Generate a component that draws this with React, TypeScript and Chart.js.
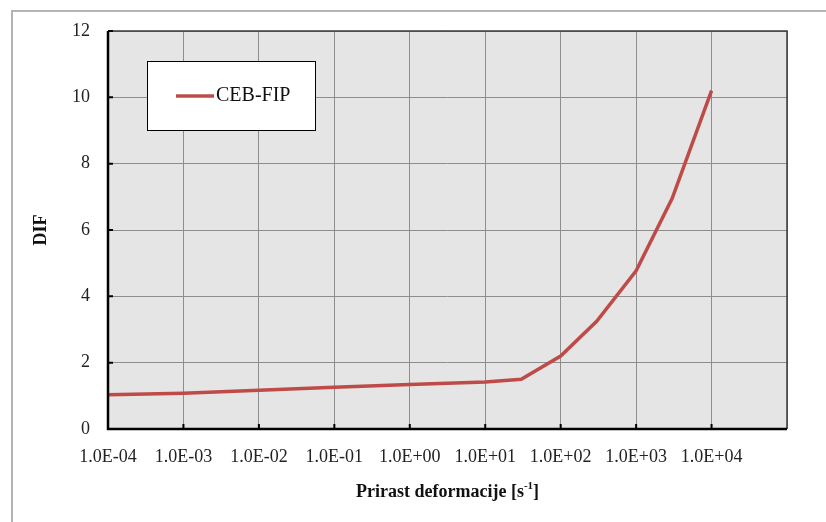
import React, { useEffect, useRef } from 'react';
import { Chart, registerables } from 'chart.js';

Chart.register(...registerables);

// ---- data ----
const strainRates = [1e-4, 1e-3, 1e-2, 1e-1, 1, 10, 30, 100, 300, 1000, 3000, 10000];
const difValues = [1.03, 1.08, 1.17, 1.26, 1.34, 1.42, 1.5, 2.2, 3.25, 4.77, 6.95, 10.2];
const xTickValues = [1e-4, 1e-3, 1e-2, 1e-1, 1, 10, 100, 1000, 10000, 100000];
const xTickLabels = ['1.0E-04', '1.0E-03', '1.0E-02', '1.0E-01', '1.0E+00', '1.0E+01', '1.0E+02', '1.0E+03', '1.0E+04', ''];
const yTickValues = [0, 2, 4, 6, 8, 10, 12];
const seriesLabel = 'CEB-FIP';
const yTitle = 'DIF';
const xTitleMain = 'Prirast deformacije [s';
const xTitleSup = '-1';
const xTitleEnd = ']';

const FONT = '"Liberation Serif", "Times New Roman", serif';
const LINE_COLOR = '#be4b48';

const decorPlugin = {
  id: 'decor',
  beforeDraw(chart: any) {
    const { ctx, chartArea } = chart;
    ctx.save();
    ctx.fillStyle = '#e5e5e5';
    ctx.fillRect(chartArea.left, chartArea.top, chartArea.right - chartArea.left, chartArea.bottom - chartArea.top);
    ctx.restore();
  },
  afterDraw(chart: any) {
    const { ctx, chartArea } = chart;
    const { left, right, top, bottom } = chartArea;
    const xs = chart.scales.x;
    const ys = chart.scales.y;
    ctx.save();
    // top and right border
    ctx.strokeStyle = '#3a3a3a';
    ctx.lineWidth = 1.5;
    ctx.beginPath();
    ctx.moveTo(left, top);
    ctx.lineTo(right, top);
    ctx.lineTo(right, bottom);
    ctx.stroke();
    // left and bottom axis
    ctx.strokeStyle = '#000';
    ctx.lineWidth = 2.5;
    ctx.beginPath();
    ctx.moveTo(left, top);
    ctx.lineTo(left, bottom);
    ctx.lineTo(right, bottom);
    ctx.stroke();
    // inward tick marks
    ctx.lineWidth = 2;
    ctx.beginPath();
    yTickValues.forEach((v) => {
      const y = ys.getPixelForValue(v);
      ctx.moveTo(left, y);
      ctx.lineTo(left + 5, y);
    });
    xTickValues.slice(0, -1).forEach((v) => {
      const x = xs.getPixelForValue(v);
      ctx.moveTo(x, bottom);
      ctx.lineTo(x, bottom - 5);
    });
    ctx.stroke();

    // legend
    const lx = 147, ly = 61, lw = 168, lh = 69;
    ctx.fillStyle = '#fff';
    ctx.fillRect(lx, ly, lw, lh);
    ctx.strokeStyle = '#000';
    ctx.lineWidth = 1;
    ctx.strokeRect(lx + 0.5, ly + 0.5, lw, lh);
    ctx.strokeStyle = LINE_COLOR;
    ctx.lineWidth = 3.5;
    ctx.beginPath();
    ctx.moveTo(176, 96);
    ctx.lineTo(214, 96);
    ctx.stroke();
    ctx.fillStyle = '#111';
    ctx.font = `20px ${FONT}`;
    ctx.textBaseline = 'middle';
    ctx.textAlign = 'left';
    ctx.fillText(seriesLabel, 216, 96);

    // x axis title with superscript
    const mainFont = `bold 18px ${FONT}`;
    const supFont = `bold 11px ${FONT}`;
    ctx.font = mainFont;
    const w1 = ctx.measureText(xTitleMain).width;
    const w3 = ctx.measureText(xTitleEnd).width;
    ctx.font = supFont;
    const w2 = ctx.measureText(xTitleSup).width;
    const total = w1 + w2 + w3;
    const cx = (left + right) / 2;
    let x0 = cx - total / 2;
    const yMid = 492;
    ctx.fillStyle = '#111';
    ctx.textBaseline = 'middle';
    ctx.font = mainFont;
    ctx.fillText(xTitleMain, x0, yMid);
    x0 += w1;
    ctx.font = supFont;
    ctx.fillText(xTitleSup, x0, yMid - 6);
    x0 += w2;
    ctx.font = mainFont;
    ctx.fillText(xTitleEnd, x0, yMid);
    ctx.restore();
  },
};

export default function App() {
  const canvasRef = useRef<HTMLCanvasElement | null>(null);

  useEffect(() => {
    if (!canvasRef.current) return;
    const chart = new Chart(canvasRef.current, {
      type: 'line',
      data: {
        datasets: [
          {
            label: seriesLabel,
            data: strainRates.map((x, i) => ({ x, y: difValues[i] })),
            borderColor: LINE_COLOR,
            backgroundColor: LINE_COLOR,
            borderWidth: 3.5,
            pointRadius: 0,
            tension: 0,
          },
        ],
      },
      options: {
        responsive: false,
        animation: false,
        layout: { padding: { left: 0, top: 31, right: 39, bottom: 0 } },
        plugins: {
          legend: { display: false },
          tooltip: { enabled: false },
        },
        scales: {
          x: {
            type: 'logarithmic',
            min: 1e-4,
            max: 1e5,
            afterBuildTicks: (scale: any) => {
              scale.ticks = xTickValues.map((v) => ({ value: v, major: true }));
            },
            afterFit: (scale: any) => {
              scale.height = 93;
            },
            grid: { color: '#8e8e8e', lineWidth: 1, drawTicks: false },
            border: { display: false },
            ticks: {
              autoSkip: false,
              maxRotation: 0,
              minRotation: 0,
              padding: 17,
              color: '#222',
              font: { family: FONT, size: 18 },
              callback: (_v: any, i: number) => xTickLabels[i],
            },
          },
          y: {
            type: 'linear',
            min: 0,
            max: 12,
            afterBuildTicks: (scale: any) => {
              scale.ticks = yTickValues.map((v) => ({ value: v }));
            },
            afterFit: (scale: any) => {
              scale.width = 108;
            },
            grid: { color: '#8e8e8e', lineWidth: 1, drawTicks: false },
            border: { display: false },
            ticks: {
              padding: 18,
              color: '#222',
              font: { family: FONT, size: 18 },
              callback: (v: any) => String(v),
            },
            title: {
              display: true,
              text: yTitle,
              color: '#111',
              font: { family: FONT, size: 18, weight: 'bold' },
              padding: { top: 31, bottom: 0 },
            },
          },
        },
      },
      plugins: [decorPlugin],
    } as any);
    return () => chart.destroy();
  }, []);

  return (
    <div style={{ position: 'absolute', left: 0, top: 0, width: 826, height: 522, background: '#fff', overflow: 'hidden' }}>
      <div
        style={{
          position: 'absolute',
          left: 11,
          top: 10,
          width: 840,
          height: 540,
          border: '2px solid #b4b4b4',
          boxSizing: 'border-box',
        }}
      />
      <canvas ref={canvasRef} width={826} height={522} style={{ position: 'absolute', left: 0, top: 0 }} />
    </div>
  );
}
